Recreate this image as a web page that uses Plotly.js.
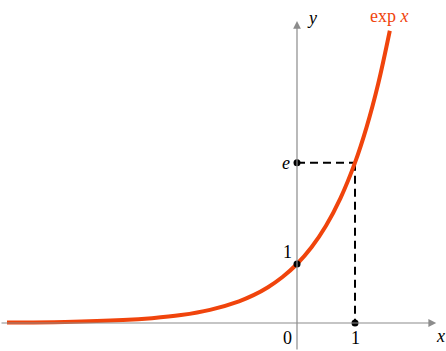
<!DOCTYPE html>
<html>
<head>
<meta charset="utf-8">
<script src="https://cdn.plot.ly/plotly-3.0.1.min.js"></script>
<style>
  html, body { margin: 0; padding: 0; background: #fff; }
  #chart { width: 446px; height: 351px; }
</style>
</head>
<body>
<div id="chart"></div>
<script>
// values
const curveX = [-5, -4, -3, -2.5, -2, -1.5, -1, -0.75, -0.5, -0.25, 0, 0.25, 0.5, 0.75, 1, 1.2, 1.4, 1.6];
const curveY = [0.007, 0.018, 0.05, 0.082, 0.135, 0.223, 0.368, 0.472, 0.607, 0.779, 1, 1.284, 1.649, 2.117, 2.718, 3.32, 4.055, 4.953];

const dotX = [0, 0, 1];
const dotY = [1, 2.718, 0];

const E = 2.718;

const serif = "Liberation Serif, DejaVu Serif, serif";
const gray = "#8c8c8c";
const red = "#f0440c";

const curve = {
  x: curveX, y: curveY, mode: "lines",
  line: { color: red, width: 4, shape: "spline" },
  hoverinfo: "skip"
};
const dots = {
  x: dotX, y: dotY, mode: "markers",
  marker: { color: "#000", size: 7 },
  hoverinfo: "skip"
};

const xr = [-297 / 58, 149 / 58];
const yr = [-28 / 59, 323 / 59];

const layout = {
  width: 446, height: 351,
  margin: { l: 0, r: 0, t: 0, b: 0 },
  paper_bgcolor: "#fff", plot_bgcolor: "#fff",
  showlegend: false,
  xaxis: { range: xr, visible: false, fixedrange: true },
  yaxis: { range: yr, visible: false, fixedrange: true },
  shapes: [
    // dashed guides
    { type: "line", x0: 0, y0: E, x1: 1, y1: E, line: { color: "#000", width: 2, dash: "8px,5px" }, layer: "below" },
    { type: "line", x0: 1, y0: E, x1: 1, y1: 0, line: { color: "#000", width: 2, dash: "8px,5px" }, layer: "below" }
  ],
  annotations: [
    // axes with arrows
    { x: 2.40, y: 0, ax: xr[0], ay: 0, axref: "x", ayref: "y", xref: "x", yref: "y",
      showarrow: true, arrowhead: 2, arrowsize: 1.3, arrowwidth: 1.2, arrowcolor: gray, text: "" },
    { x: 0, y: 5.12, ax: 0, ay: yr[0], axref: "x", ayref: "y", xref: "x", yref: "y",
      showarrow: true, arrowhead: 2, arrowsize: 1.3, arrowwidth: 1.2, arrowcolor: gray, text: "" },
    // labels
    { x: 0.26, y: 5.17, text: "<i>y</i>", showarrow: false, font: { family: serif, size: 18, color: "#000" } },
    { x: 2.47, y: -0.22, text: "<i>x</i>", showarrow: false, font: { family: serif, size: 18, color: "#000" } },
    { x: 1.6, y: 5.21, text: "exp <i>x</i>", showarrow: false, font: { family: serif, size: 18, color: red } },
    { x: -0.17, y: -0.25, text: "0", showarrow: false, font: { family: serif, size: 18, color: "#000" } },
    { x: 1, y: -0.25, text: "1", showarrow: false, font: { family: serif, size: 18, color: "#000" } },
    { x: -0.17, y: 1.2, text: "1", showarrow: false, font: { family: serif, size: 18, color: "#000" } },
    { x: -0.19, y: 2.71, text: "<i>e</i>", showarrow: false, font: { family: serif, size: 18, color: "#000" } }
  ]
};

Plotly.newPlot("chart", [curve, dots], layout, { displayModeBar: false, staticPlot: true });
</script>
</body>
</html>
